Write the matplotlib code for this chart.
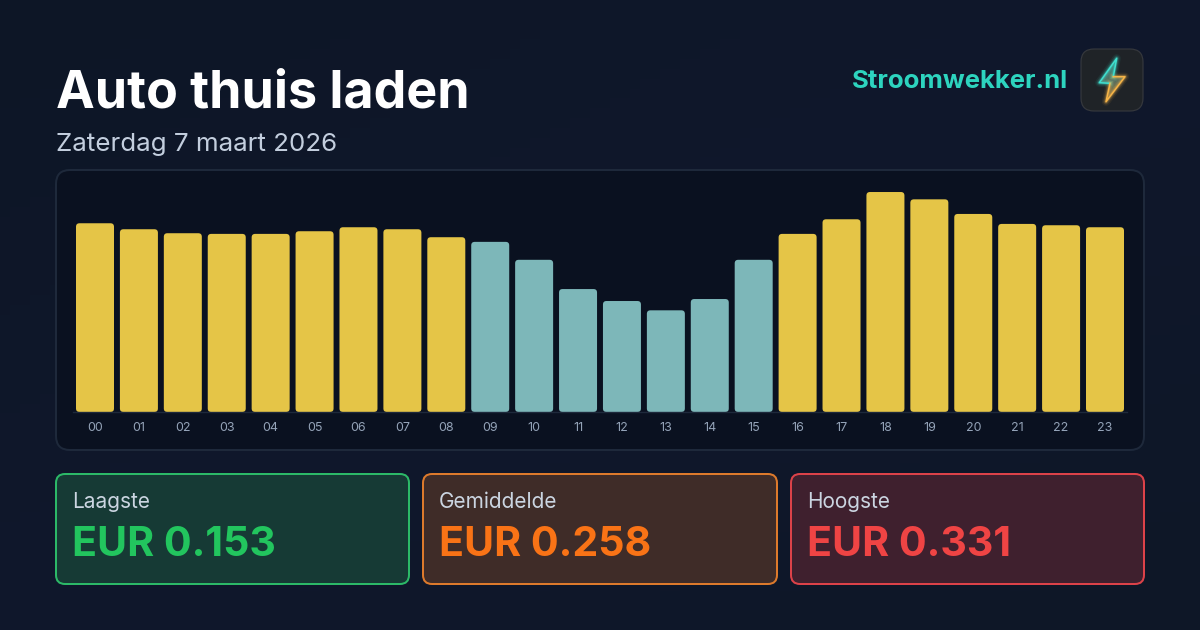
#!/usr/bin/python3

import numpy as np
from matplotlib import pyplot as plt
from matplotlib.patches import FancyBboxPatch, Polygon
from matplotlib.colors import LinearSegmentedColormap

plt.rcParams['font.family'] = ['Inter', 'DejaVu Sans']

# Data
hours = ['00', '01', '02', '03', '04', '05', '06', '07', '08', '09', '10', '11',
         '12', '13', '14', '15', '16', '17', '18', '19', '20', '21', '22', '23']
prices = [0.284, 0.275, 0.269, 0.268, 0.268, 0.272, 0.278, 0.275, 0.263, 0.256, 0.229, 0.185,
          0.167, 0.153, 0.170, 0.229, 0.268, 0.290, 0.331, 0.320, 0.298, 0.283, 0.281, 0.278]
cheap_hours = ['09', '10', '11', '12', '13', '14', '15']
card_labels = ['Laagste', 'Gemiddelde', 'Hoogste']
card_values = ['EUR 0.153', 'EUR 0.258', 'EUR 0.331']

# Colors
YELLOW = '#e5c547'
TEAL = '#7db7b9'
card_fill = ['#163a35', '#3f2c28', '#3f202e']
card_edge = ['#2cb968', '#dd7a2c', '#dc4249']
card_text = ['#22c55e', '#f97316', '#ef4444']

W, H = 1200, 630


def px_box(ax, x0, y0, x1, y1, r, face, edge, lw=2.0, z=2):
    box = FancyBboxPatch((x0, y0), x1 - x0, y1 - y0, boxstyle='round,pad=0,rounding_size=%g' % r,
                         fc=face, ec=edge, lw=lw * 0.72, zorder=z)
    ax.add_patch(box)
    return box


fig = plt.figure(figsize=(12, 6.3), dpi=100)
bg = fig.add_axes([0, 0, 1, 1])
bg.set_xlim(0, W)
bg.set_ylim(H, 0)
bg.axis('off')

# Page background, slight diagonal gradient
bg_cmap = LinearSegmentedColormap.from_list('page', ['#0d1626', '#10182c', '#0e1727'])
gx, gy = np.meshgrid(np.linspace(0, 1, 120), np.linspace(0, 1, 64))
bg.imshow((gx + gy) / 2, extent=[0, W, H, 0], cmap=bg_cmap, aspect='auto', zorder=0)

# Header
bg.text(56, 93.5, 'Auto thuis laden', color='white', fontsize=37.4, fontweight='bold',
        va='center', ha='left')
bg.text(56, 144.5, 'Zaterdag 7 maart 2026', color='#c3cede', fontsize=18.7, va='center', ha='left')
bg.text(1068, 82, 'Stroomwekker.nl', color='#2dd4bf', fontsize=18.5, fontweight='bold',
        va='center', ha='right')

# Icon
px_box(bg, 1081, 49, 1143, 111, 13, '#1f2327', '#35383d', lw=1.2)
bolt = [(1116.7, 58.3), (1099.3, 82.7), (1110, 83.3), (1106, 101.7), (1125, 76.7), (1113.3, 76.7)]
bolt_cmap = LinearSegmentedColormap.from_list('bolt', ['#35d6c6', '#7fa98f', '#f0a63c'])
grad = bg.imshow(np.linspace(0, 1, 64).reshape(-1, 1), extent=[1097, 1127, 102, 58],
                 cmap=bolt_cmap, aspect='auto', zorder=4, alpha=0.55)
grad.set_clip_path(Polygon(bolt, closed=True, transform=bg.transData))
top_edge = [bolt[5], bolt[0], bolt[1], bolt[2]]
low_edge = [bolt[2], bolt[3], bolt[4], bolt[5]]
for lw, alpha in [(6, 0.07), (4, 0.14), (2.4, 0.28), (1.1, 1.0)]:
    bg.plot(*zip(*top_edge), color='#3fe0d0', lw=lw, alpha=alpha, zorder=5, solid_joinstyle='round')
    bg.plot(*zip(*low_edge), color='#f7b548', lw=lw, alpha=alpha, zorder=5, solid_joinstyle='round')
bg.set_xlim(0, W)
bg.set_ylim(H, 0)

# Chart panel
px_box(bg, 56, 170, 1144, 450, 14, '#0a1120', '#1e293b', lw=2)

# Cards
card_x = [(56, 409), (423, 777), (791, 1144)]
for (x0, x1), label, value, face, edge, color in zip(card_x, card_labels, card_values,
                                                     card_fill, card_edge, card_text):
    px_box(bg, x0, 474, x1, 584, 9, face, edge, lw=2)
    bg.text(x0 + 16, 502, label, color='#cbd5e1', fontsize=15, va='center', ha='left', zorder=3)
    bg.text(x0 + 16, 544.5, value, color=color, fontsize=29.6, fontweight='bold',
            va='center', ha='left', zorder=3)

# Bars, axes box runs from x=73 to x=1127 and baseline is at y=412
step = (1105 - 95) / 23.0
left = 95 - 0.5 * step
right = 1105 + 0.5 * step
ax = fig.add_axes([left / W, (H - 412) / H, (right - left) / W, 232 / H])
ax.patch.set_alpha(0)
ax.set_xlim(-0.5, 23.5)
ax.set_ylim(0, 232 / 664.6)

px_x = (right - left) / 24.0
px_y = 664.6
bar_w = 38 / px_x
for i, (hour, price) in enumerate(zip(hours, prices)):
    color = TEAL if hour in cheap_hours else YELLOW
    ax.add_patch(FancyBboxPatch((i - bar_w / 2, 0), bar_w, price,
                                boxstyle='round,pad=0,rounding_size=%g' % (3.5 / px_x),
                                mutation_aspect=px_x / px_y, fc=color, ec='none'))

ax.set_xticks(range(len(hours)))
ax.set_xticklabels(hours, color='#94a3b8', fontsize=9)
ax.tick_params(axis='x', length=0, pad=7)
ax.set_yticks([])
for side in ['top', 'left', 'right']:
    ax.spines[side].set_visible(False)
ax.spines['bottom'].set_color('#1e293b')
ax.spines['bottom'].set_linewidth(1)

fig.savefig('out.png', dpi=100)
